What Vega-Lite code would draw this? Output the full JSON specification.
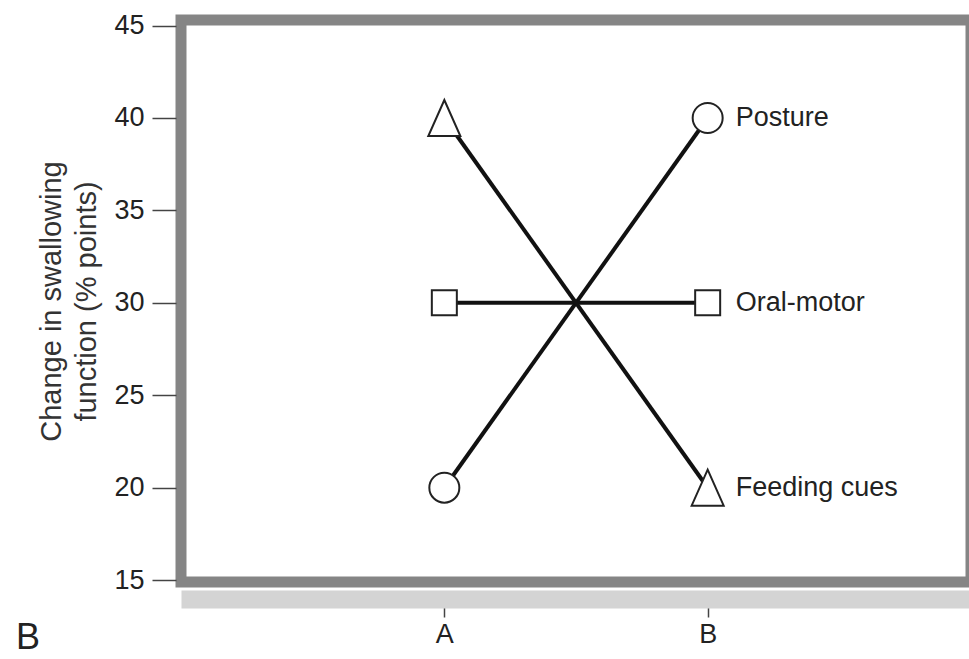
{
  "$schema": "https://vega.github.io/schema/vega-lite/v6.json",
  "width": 790,
  "height": 562,
  "padding": {"left": 15, "top": 11, "right": 0, "bottom": 0},
  "background": "white",
  "config": {
    "font": "Liberation Sans",
    "view": {"stroke": "#858585", "strokeWidth": 11},
    "axis": {"labelFont": "Liberation Sans", "titleFont": "Liberation Sans", "labelColor": "#222", "titleColor": "#333", "grid": false}
  },
  "title": {"text": "B", "orient": "bottom", "anchor": "start", "frame": "bounds", "fontSize": 36, "fontWeight": "normal", "color": "#222", "dx": -22, "offset": -26},
  "data": {
    "values": [
      {"group": "A", "series": "Posture", "value": 20},
      {"group": "B", "series": "Posture", "value": 40},
      {"group": "A", "series": "Oral-motor", "value": 30},
      {"group": "B", "series": "Oral-motor", "value": 30},
      {"group": "A", "series": "Feeding cues", "value": 40},
      {"group": "B", "series": "Feeding cues", "value": 20}
    ]
  },
  "encoding": {
    "x": {"field": "group", "type": "ordinal", "scale": {"type": "point", "padding": 1.03},
      "axis": {"title": null, "labelAngle": 0, "labelFontSize": 27, "labelPadding": 4, "tickSize": 18, "tickColor": "#444", "tickWidth": 1.5, "offset": 17, "domainColor": "#d4d4d4", "domainWidth": 18, "domainCap": "butt"}},
    "y": {"field": "value", "type": "quantitative", "scale": {"domain": [14.9, 45.3], "nice": false, "zero": false},
      "axis": {"title": ["Change in swallowing", "function (% points)"], "titleFontSize": 29, "titleFontWeight": "normal", "titleLineHeight": 35, "titlePadding": 12, "values": [15, 20, 25, 30, 35, 40, 45], "labelFontSize": 27, "labelPadding": 8, "tickSize": 24, "tickColor": "#444", "tickWidth": 1.5, "domain": false, "offset": 5}}
  },
  "layer": [
    {
      "mark": {"type": "line", "color": "#111", "strokeWidth": 4},
      "encoding": {"detail": {"field": "series"}}
    },
    {
      "mark": {"type": "point", "filled": true, "fill": "white", "stroke": "#222", "strokeWidth": 2, "opacity": 1},
      "encoding": {
        "shape": {"field": "series", "scale": {"domain": ["Posture", "Oral-motor", "Feeding cues"], "range": ["circle", "square", "M0,-1L0.89,1L-0.89,1Z"]}, "legend": null},
        "size": {"field": "series", "scale": {"type": "ordinal", "domain": ["Posture", "Oral-motor", "Feeding cues"], "range": [900, 625, 1296]}, "legend": null}
      }
    },
    {
      "transform": [{"filter": "datum.group == 'B'"}],
      "mark": {"type": "text", "align": "left", "baseline": "middle", "dx": 28, "fontSize": 27, "color": "#222"},
      "encoding": {"text": {"field": "series"}}
    }
  ]
}
